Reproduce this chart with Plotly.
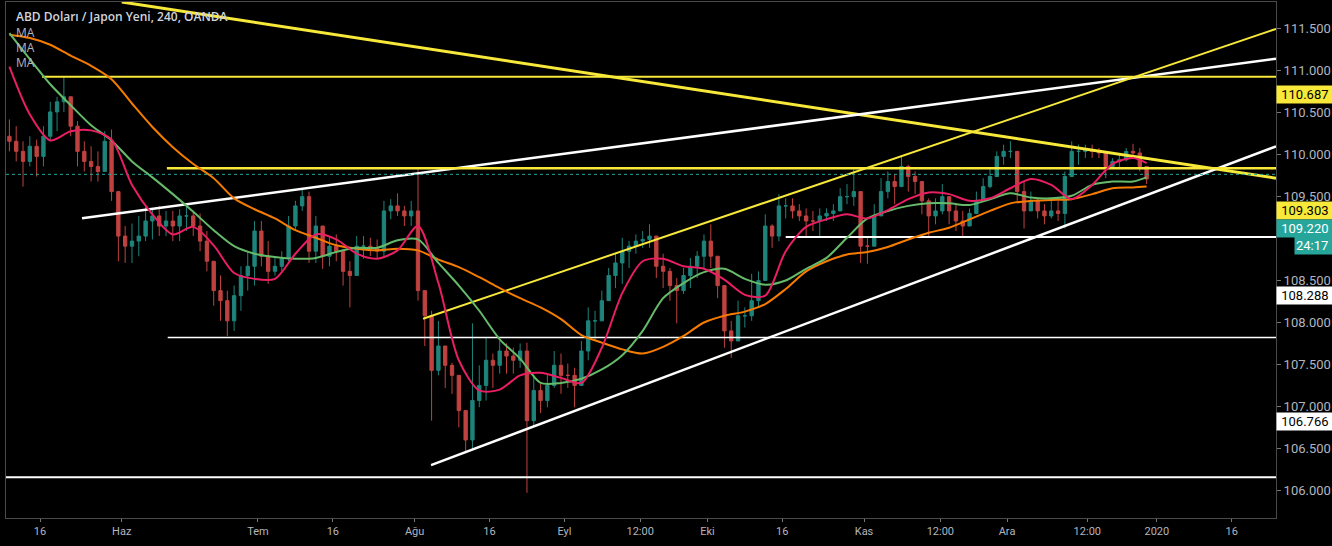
import pandas as pd
import plotly.graph_objects as go

# ---------------- data ----------------
BAR_START = "2019-05-09"          # first daily bar
X_END = "2020-01-24 12:00"
Y_RANGE = [105.67, 111.82]

OPEN = [110.22, 110.16, 110.04, 109.92, 110.10, 109.98, 110.22, 110.51, 110.63, 110.69,
        110.34, 110.04, 109.92, 109.86, 109.80, 110.16, 109.56, 109.03, 108.91, 108.97,
        109.03, 109.21, 109.27, 109.15, 109.21, 109.15, 109.27, 109.27, 109.15, 108.97,
        108.73, 108.38, 108.26, 108.02, 108.32, 108.56, 108.67, 109.09, 108.79, 108.61,
        108.67, 108.76, 109.15, 109.39, 109.50, 108.85, 109.15, 108.79, 108.91, 108.85,
        108.61, 108.56, 108.91, 108.91, 108.88, 108.85, 109.33, 109.39, 109.33, 109.27,
        109.33, 108.38, 108.08, 107.43, 107.72, 107.49, 107.37, 106.95, 106.60, 107.07,
        107.25, 107.55, 107.49, 107.66, 107.60, 107.55, 107.66, 106.83, 107.19, 107.07,
        107.25, 107.49, 107.37, 107.37, 107.25, 107.66, 108.02, 108.02, 108.26, 108.56,
        108.71, 108.85, 108.91, 108.97, 108.99, 109.03, 108.67, 108.61, 108.44, 108.38,
        108.56, 108.67, 108.79, 108.97, 108.79, 108.44, 107.90, 107.78, 108.08, 108.08,
        108.26, 108.50, 109.15, 109.03, 109.39, 109.39, 109.33, 109.27, 109.21, 109.21,
        109.27, 109.30, 109.33, 109.50, 109.50, 109.56, 108.91, 108.91, 109.27, 109.56,
        109.68, 109.62, 109.86, 109.74, 109.68, 109.45, 109.27, 109.33, 109.50, 109.33,
        109.21, 109.15, 109.30, 109.45, 109.62, 109.74, 109.98, 110.04, 110.04, 109.56,
        109.33, 109.45, 109.33, 109.27, 109.33, 109.30, 109.74, 110.04, 110.04, 110.06,
        110.04, 110.02, 109.86, 109.92, 109.94, 110.04, 110.02, 109.86]
HIGH = [110.42, 110.34, 110.16, 110.22, 110.18, 110.34, 110.63, 110.69, 110.93, 110.69,
        110.40, 110.16, 110.10, 110.04, 110.28, 110.30, 109.56, 109.15, 109.18, 109.27,
        109.39, 109.35, 109.39, 109.33, 109.33, 109.35, 109.39, 109.33, 109.30, 109.09,
        108.73, 108.56, 108.38, 108.44, 108.67, 108.85, 109.21, 109.21, 108.97, 108.79,
        108.85, 109.27, 109.45, 109.59, 109.56, 109.27, 109.15, 109.03, 109.05, 108.85,
        108.73, 109.03, 109.03, 109.01, 108.99, 109.45, 109.47, 109.54, 109.39, 109.45,
        109.83, 108.38, 108.14, 108.02, 107.72, 107.52, 107.37, 106.95, 107.99, 107.49,
        107.82, 107.63, 107.78, 107.75, 107.70, 107.75, 107.76, 107.37, 107.27, 107.39,
        107.66, 107.63, 107.51, 107.46, 107.78, 108.18, 108.14, 108.38, 108.65, 108.82,
        109.01, 108.97, 109.05, 109.09, 109.17, 109.03, 108.82, 108.65, 108.53, 108.65,
        108.77, 108.85, 109.05, 109.17, 108.79, 108.44, 108.02, 108.26, 108.18, 108.58,
        108.61, 109.29, 109.17, 109.53, 109.48, 109.48, 109.41, 109.36, 109.33, 109.36,
        109.36, 109.41, 109.60, 109.65, 109.83, 109.56, 109.01, 109.41, 109.72, 109.80,
        109.77, 109.98, 109.88, 109.80, 109.68, 109.48, 109.48, 109.65, 109.50, 109.41,
        109.33, 109.36, 109.56, 109.72, 109.84, 110.04, 110.12, 110.16, 110.04, 109.68,
        109.56, 109.48, 109.41, 109.45, 109.45, 109.80, 110.16, 110.12, 110.12, 110.12,
        110.08, 110.02, 109.96, 110.00, 110.08, 110.13, 110.08, 109.86]
LOW = [110.04, 109.92, 109.62, 109.86, 109.74, 109.86, 110.16, 110.28, 110.51, 110.22,
       109.86, 109.80, 109.68, 109.68, 109.80, 109.45, 108.73, 108.71, 108.71, 108.79,
       108.97, 108.99, 109.03, 109.03, 108.97, 108.97, 109.09, 109.03, 108.85, 108.61,
       108.20, 108.02, 107.84, 107.90, 108.14, 108.38, 108.44, 108.67, 108.46, 108.56,
       108.61, 108.73, 109.09, 109.33, 108.71, 108.71, 108.64, 108.67, 108.73, 108.44,
       108.18, 108.56, 108.76, 108.79, 108.76, 108.79, 109.23, 109.27, 109.15, 109.15,
       108.26, 107.72, 106.83, 107.37, 107.22, 107.15, 106.75, 106.44, 106.48, 106.99,
       107.07, 107.22, 107.39, 107.39, 107.39, 107.46, 105.97, 106.77, 106.92, 106.99,
       107.22, 107.15, 107.22, 106.99, 107.25, 107.55, 107.78, 108.02, 108.26, 108.41,
       108.46, 108.65, 108.82, 108.89, 108.89, 108.53, 108.41, 108.26, 107.99, 108.34,
       108.41, 108.53, 108.65, 108.65, 108.29, 107.70, 107.58, 107.78, 107.94, 108.02,
       108.18, 108.50, 108.89, 108.97, 109.24, 109.24, 109.21, 109.01, 109.09, 109.01,
       109.21, 109.21, 109.33, 109.41, 109.39, 108.71, 108.70, 108.91, 109.27, 109.48,
       109.41, 109.62, 109.56, 109.53, 109.29, 109.01, 109.17, 109.29, 109.17, 109.09,
       109.01, 109.15, 109.30, 109.45, 109.60, 109.74, 109.88, 109.96, 109.45, 109.12,
       109.33, 109.24, 109.17, 109.24, 109.21, 109.12, 109.74, 109.88, 109.96, 109.96,
       109.96, 109.72, 109.84, 109.84, 109.92, 109.96, 109.80, 109.65]
CLOSE = [110.16, 110.04, 109.92, 110.10, 109.98, 110.22, 110.51, 110.63, 110.69, 110.34,
         110.04, 109.92, 109.86, 109.80, 110.16, 109.56, 109.03, 108.91, 108.97, 109.03,
         109.21, 109.27, 109.15, 109.21, 109.15, 109.27, 109.27, 109.15, 108.97, 108.73,
         108.38, 108.26, 108.02, 108.32, 108.56, 108.67, 109.09, 108.79, 108.61, 108.67,
         108.76, 109.15, 109.39, 109.50, 108.85, 109.15, 108.79, 108.91, 108.85, 108.61,
         108.56, 108.91, 108.91, 108.88, 108.85, 109.33, 109.39, 109.33, 109.27, 109.33,
         108.38, 108.08, 107.43, 107.72, 107.49, 107.37, 106.95, 106.60, 107.07, 107.25,
         107.55, 107.49, 107.66, 107.60, 107.55, 107.66, 106.83, 107.19, 107.07, 107.25,
         107.49, 107.37, 107.37, 107.25, 107.66, 108.02, 108.02, 108.26, 108.56, 108.71,
         108.85, 108.91, 108.97, 108.99, 109.03, 108.67, 108.61, 108.44, 108.38, 108.56,
         108.67, 108.79, 108.97, 108.79, 108.44, 107.90, 107.78, 108.08, 108.08, 108.26,
         108.50, 109.15, 109.03, 109.39, 109.39, 109.33, 109.27, 109.21, 109.21, 109.27,
         109.30, 109.33, 109.50, 109.50, 109.56, 108.91, 108.91, 109.27, 109.56, 109.68,
         109.62, 109.86, 109.74, 109.68, 109.45, 109.27, 109.33, 109.50, 109.33, 109.21,
         109.15, 109.30, 109.45, 109.62, 109.74, 109.98, 110.04, 110.04, 109.56, 109.33,
         109.45, 109.33, 109.27, 109.33, 109.30, 109.74, 110.04, 110.04, 110.06, 110.04,
         110.02, 109.86, 109.92, 109.94, 110.04, 110.02, 109.86, 109.71]

# moving averages, read every 3rd bar (plus the last bar)
MA_STEP = 3
MA_FAST = [111.05, 110.48, 110.17, 110.28, 110.29, 110.18, 109.64, 109.29, 109.05, 109.14,
           108.92, 108.59, 108.52, 108.52, 108.82, 109.05, 108.99, 108.82, 108.76, 108.86,
           109.15, 108.47, 107.55, 107.19, 107.20, 107.37, 107.40, 107.34, 107.28, 107.70,
           108.35, 108.73, 108.76, 108.67, 108.64, 108.51, 108.33, 108.32, 108.85, 109.14,
           109.23, 109.29, 109.24, 109.34, 109.47, 109.55, 109.53, 109.45, 109.48, 109.60,
           109.71, 109.64, 109.47, 109.64, 109.89, 109.96, 109.90]
MA_MID = [111.45, 111.14, 110.84, 110.59, 110.35, 110.17, 109.92, 109.73, 109.53, 109.32,
          109.10, 108.91, 108.82, 108.78, 108.76, 108.77, 108.84, 108.89, 108.89, 108.98,
          108.99, 108.71, 108.44, 108.14, 107.80, 107.57, 107.28, 107.28, 107.33, 107.44,
          107.61, 107.90, 108.29, 108.47, 108.60, 108.64, 108.52, 108.45, 108.50, 108.64,
          108.77, 109.01, 109.24, 109.33, 109.39, 109.42, 109.42, 109.40, 109.47, 109.54,
          109.49, 109.48, 109.51, 109.64, 109.68, 109.68, 109.73]
MA_SLOW = [111.43, 111.39, 111.31, 111.18, 111.06, 110.90, 110.61, 110.33, 110.09, 109.89,
           109.72, 109.48, 109.35, 109.24, 109.10, 109.01, 108.92, 108.88, 108.86, 108.88,
           108.86, 108.75, 108.66, 108.54, 108.41, 108.29, 108.18, 108.04, 107.85, 107.76,
           107.68, 107.63, 107.71, 107.84, 108.00, 108.08, 108.13, 108.22, 108.40, 108.61,
           108.73, 108.81, 108.84, 108.90, 108.99, 109.07, 109.13, 109.23, 109.33, 109.42,
           109.45, 109.46, 109.47, 109.53, 109.60, 109.61, 109.62]

# drawn lines: (start time, start price, end time, end price, colour name, width)
TREND_LINES = [
    ("2019-06-03 00:00", 111.82, X_END, 109.72, "yellow", 3),
    ("2019-05-24 04:00", 109.243, X_END, 111.144, "white", 2.5),
    ("2019-08-02 06:00", 108.044, X_END, 111.50, "yellow", 2),
    ("2019-08-05 10:00", 106.30, X_END, 110.10, "white", 2.5),
    ("2019-05-16 07:00", 110.93, X_END, 110.93, "yellow", 2),
    ("2019-06-11 15:00", 109.84, X_END, 109.84, "yellow", 2.5),
    ("2019-06-11 18:00", 107.82, X_END, 107.82, "white", 1.5),
    ("2019-05-09 00:00", 106.156, X_END, 106.156, "white", 2),
    ("2019-10-16 12:00", 109.02, X_END, 109.02, "white", 2),
]
PREV_CLOSE = 109.766

# right-hand price tags: (text, price position, background, text colour)
PRICE_TAGS = [
    ("110.687", 110.72, "yellow", "black"),
    ("109.303", 109.34, "yellow", "black"),
    ("109.220", 109.115, "teal", "white"),
    ("24:17", 108.915, "teal", "white"),
    ("108.288", 108.32, "white", "black"),
    ("106.766", 106.82, "white", "black"),
]

X_TICK_DATES = ["2019-05-16", "2019-06-03", "2019-07-01", "2019-07-16", "2019-08-01",
                "2019-08-16", "2019-09-02", "2019-09-17 03:00", "2019-10-01", "2019-10-16",
                "2019-11-01", "2019-11-18 05:00", "2019-12-02", "2019-12-17 19:00",
                "2020-01-01", "2020-01-16"]
X_TICK_TEXT = ["16", "Haz", "Tem", "16", "Ağu", "16", "Eyl", "12:00", "Eki", "16",
               "Kas", "12:00", "Ara", "12:00", "2020", "16"]
# 109.000 is hidden behind the price tags in the reference
Y_TICKS = [106.0, 106.5, 107.0, 107.5, 108.0, 108.5, 109.5, 110.0, 110.5, 111.0, 111.5]

TITLE = "ABD Doları / Japon Yeni, 240, OANDA"
MA_LABELS = ["MA", "MA", "MA"]

# ---------------- styling ----------------
COL = {
    "yellow": "#f7e83a",
    "white": "#ffffff",
    "teal": "#26a69a",
    "black": "#000000",
    "up": "#26a69a",
    "down": "#ef5350",
    "ma_fast": "#e91e63",
    "ma_mid": "#66bb6a",
    "ma_slow": "#f57c00",
    "text": "#b2b5be",
    "frame": "#4a4a4a",
}
AX_FONT = "Liberation Sans Narrow, Roboto, Arial, sans-serif"

dates = pd.bdate_range(BAR_START, periods=len(CLOSE)) + pd.Timedelta(hours=12)
ma_idx = list(range(0, len(CLOSE), MA_STEP))
if ma_idx[-1] != len(CLOSE) - 1:
    ma_idx.append(len(CLOSE) - 1)
ma_dates = dates[ma_idx]

fig = go.Figure()

# horizontal / trend lines under the candles
for x0, y0, x1, y1, cname, w in TREND_LINES:
    fig.add_trace(go.Scatter(x=[x0, x1], y=[y0, y1], mode="lines",
                             line=dict(color=COL[cname], width=w),
                             hoverinfo="skip", showlegend=False))

fig.add_trace(go.Scatter(x=[BAR_START, X_END], y=[PREV_CLOSE, PREV_CLOSE], mode="lines",
                         line=dict(color=COL["teal"], width=1, dash="dot"),
                         hoverinfo="skip", showlegend=False))

fig.add_trace(go.Candlestick(
    x=dates, open=OPEN, high=HIGH, low=LOW, close=CLOSE,
    increasing=dict(line=dict(color=COL["up"], width=1), fillcolor=COL["up"]),
    decreasing=dict(line=dict(color=COL["down"], width=1), fillcolor=COL["down"]),
    whiskerwidth=0, opacity=0.8, hoverinfo="skip", showlegend=False))

for vals, cname in [(MA_SLOW, "ma_slow"), (MA_MID, "ma_mid"), (MA_FAST, "ma_fast")]:
    fig.add_trace(go.Scatter(x=ma_dates, y=vals, mode="lines",
                             line=dict(color=COL[cname], width=2, shape="spline", smoothing=0.8),
                             hoverinfo="skip", showlegend=False))

annotations = [dict(xref="paper", yref="paper", x=0.006, y=0.971, xanchor="left", yanchor="middle",
                    text=TITLE, showarrow=False,
                    font=dict(family="Open Sans, sans-serif", size=12, color="#d1d4dc", weight=600))]
for i, t in enumerate(MA_LABELS):
    annotations.append(dict(xref="paper", yref="paper", x=0.006, y=0.940 - i * 0.029,
                            xanchor="left", yanchor="middle", text=t, showarrow=False,
                            font=dict(family="Open Sans, sans-serif", size=12, color=COL["text"])))
for text, pos, bg, fg in PRICE_TAGS:
    small = ":" in text
    annotations.append(dict(xref="paper", yref="y", x=1, y=pos, xanchor="left", yanchor="middle",
                            xshift=18 if small else 0,
                            text=("&nbsp;" + text) if not small else text,
                            showarrow=False, bgcolor=COL[bg], width=46 if small else 62,
                            align="left", borderpad=1,
                            font=dict(family=AX_FONT, size=13, color=COL[fg])))

fig.update_layout(
    width=1332, height=546,
    margin=dict(l=6, r=56, t=2, b=28),
    paper_bgcolor="#000000", plot_bgcolor="#000000",
    showlegend=False, hovermode=False,
    annotations=annotations,
    xaxis=dict(
        type="date", range=[BAR_START, X_END],
        rangebreaks=[dict(bounds=["sat", "mon"])],
        rangeslider=dict(visible=False),
        tickvals=X_TICK_DATES, ticktext=X_TICK_TEXT,
        tickfont=dict(family=AX_FONT, size=11, color=COL["text"]),
        showgrid=False, zeroline=False,
        showline=True, mirror=True, linecolor=COL["frame"], linewidth=1,
        ticks="outside", ticklen=3, tickcolor="#777",
    ),
    yaxis=dict(
        side="right", range=Y_RANGE,
        tickvals=Y_TICKS, ticktext=[f"{v:.3f}" for v in Y_TICKS],
        tickfont=dict(family=AX_FONT, size=13, color=COL["text"]),
        showgrid=False, zeroline=False,
        showline=True, mirror=True, linecolor=COL["frame"], linewidth=1,
        ticks="outside", ticklen=4, tickcolor="#777",
    ),
)

# the page's default 8px body margin would shift the whole chart; remove it
fig.write_html("out.html", config={"displayModeBar": False},
               post_script="document.body.style.margin='0';document.body.style.overflow='hidden';")
